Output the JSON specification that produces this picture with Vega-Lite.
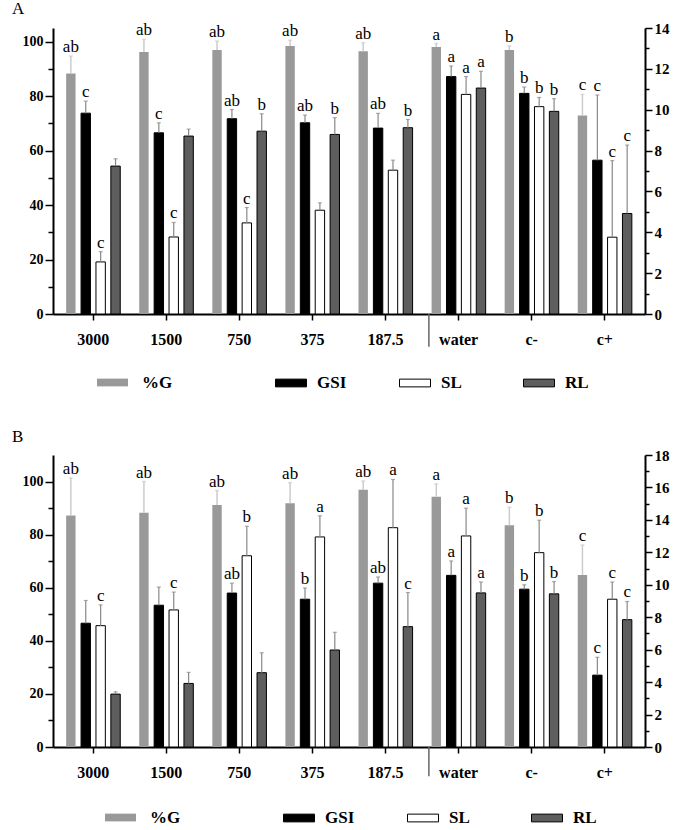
{
  "$schema": "https://vega.github.io/schema/vega-lite/v6.json",
  "padding": {"left": 12, "top": 0, "right": 5, "bottom": 0},
  "background": "white",
  "datasets": {
    "d": [
      {"p":"A","c":"3000","s":"%G","v":88.3,"hi":94.7,"l":"ab"},
      {"p":"A","c":"3000","s":"GSI","v":9.83,"hi":10.42,"l":"c"},
      {"p":"A","c":"3000","s":"SL","v":2.55,"hi":3.05,"l":"c"},
      {"p":"A","c":"3000","s":"RL","v":7.24,"hi":7.60,"l":""},
      {"p":"A","c":"1500","s":"%G","v":96.2,"hi":100.8,"l":"ab"},
      {"p":"A","c":"1500","s":"GSI","v":8.87,"hi":9.36,"l":"c"},
      {"p":"A","c":"1500","s":"SL","v":3.77,"hi":4.48,"l":"c"},
      {"p":"A","c":"1500","s":"RL","v":8.71,"hi":9.05,"l":""},
      {"p":"A","c":"750","s":"%G","v":96.9,"hi":100.2,"l":"ab"},
      {"p":"A","c":"750","s":"GSI","v":9.56,"hi":10.01,"l":"ab"},
      {"p":"A","c":"750","s":"SL","v":4.46,"hi":5.21,"l":"c"},
      {"p":"A","c":"750","s":"RL","v":8.95,"hi":9.80,"l":"b"},
      {"p":"A","c":"375","s":"%G","v":98.4,"hi":100.5,"l":"ab"},
      {"p":"A","c":"375","s":"GSI","v":9.36,"hi":9.74,"l":"ab"},
      {"p":"A","c":"375","s":"SL","v":5.08,"hi":5.44,"l":""},
      {"p":"A","c":"375","s":"RL","v":8.79,"hi":9.61,"l":"b"},
      {"p":"A","c":"187.5","s":"%G","v":96.5,"hi":99.6,"l":"ab"},
      {"p":"A","c":"187.5","s":"GSI","v":9.10,"hi":9.82,"l":"ab"},
      {"p":"A","c":"187.5","s":"SL","v":7.04,"hi":7.53,"l":""},
      {"p":"A","c":"187.5","s":"RL","v":9.12,"hi":9.52,"l":"b"},
      {"p":"A","c":"water","s":"%G","v":98.0,"hi":99.3,"l":"a"},
      {"p":"A","c":"water","s":"GSI","v":11.62,"hi":12.14,"l":"a"},
      {"p":"A","c":"water","s":"SL","v":10.75,"hi":11.62,"l":"a"},
      {"p":"A","c":"water","s":"RL","v":11.06,"hi":11.88,"l":"a"},
      {"p":"A","c":"c-","s":"%G","v":96.9,"hi":98.4,"l":"b"},
      {"p":"A","c":"c-","s":"GSI","v":10.80,"hi":11.11,"l":"b"},
      {"p":"A","c":"c-","s":"SL","v":10.15,"hi":10.60,"l":"b"},
      {"p":"A","c":"c-","s":"RL","v":9.92,"hi":10.54,"l":"b"},
      {"p":"A","c":"c+","s":"%G","v":72.9,"hi":80.6,"l":"c"},
      {"p":"A","c":"c+","s":"GSI","v":7.53,"hi":10.72,"l":"c"},
      {"p":"A","c":"c+","s":"SL","v":3.76,"hi":7.51,"l":"c"},
      {"p":"A","c":"c+","s":"RL","v":4.92,"hi":8.27,"l":"c"},
      {"p":"B","c":"3000","s":"%G","v":87.2,"hi":101.3,"l":"ab"},
      {"p":"B","c":"3000","s":"GSI","v":7.63,"hi":9.03,"l":""},
      {"p":"B","c":"3000","s":"SL","v":7.48,"hi":8.76,"l":"c"},
      {"p":"B","c":"3000","s":"RL","v":3.26,"hi":3.40,"l":""},
      {"p":"B","c":"1500","s":"%G","v":88.2,"hi":100.0,"l":"ab"},
      {"p":"B","c":"1500","s":"GSI","v":8.74,"hi":9.86,"l":""},
      {"p":"B","c":"1500","s":"SL","v":8.45,"hi":9.55,"l":"c"},
      {"p":"B","c":"1500","s":"RL","v":3.92,"hi":4.60,"l":""},
      {"p":"B","c":"750","s":"%G","v":91.2,"hi":96.6,"l":"ab"},
      {"p":"B","c":"750","s":"GSI","v":9.49,"hi":10.10,"l":"ab"},
      {"p":"B","c":"750","s":"SL","v":11.79,"hi":13.61,"l":"b"},
      {"p":"B","c":"750","s":"RL","v":4.58,"hi":5.81,"l":""},
      {"p":"B","c":"375","s":"%G","v":91.8,"hi":99.6,"l":"ab"},
      {"p":"B","c":"375","s":"GSI","v":9.11,"hi":9.80,"l":"b"},
      {"p":"B","c":"375","s":"SL","v":12.95,"hi":14.25,"l":"a"},
      {"p":"B","c":"375","s":"RL","v":5.98,"hi":7.07,"l":""},
      {"p":"B","c":"187.5","s":"%G","v":96.9,"hi":100.2,"l":"ab"},
      {"p":"B","c":"187.5","s":"GSI","v":10.10,"hi":10.48,"l":"ab"},
      {"p":"B","c":"187.5","s":"SL","v":13.52,"hi":16.49,"l":"a"},
      {"p":"B","c":"187.5","s":"RL","v":7.42,"hi":9.52,"l":"c"},
      {"p":"B","c":"water","s":"%G","v":94.3,"hi":99.1,"l":"a"},
      {"p":"B","c":"water","s":"GSI","v":10.58,"hi":11.47,"l":"a"},
      {"p":"B","c":"water","s":"SL","v":13.01,"hi":14.72,"l":"a"},
      {"p":"B","c":"water","s":"RL","v":9.50,"hi":10.17,"l":"a"},
      {"p":"B","c":"c-","s":"%G","v":83.5,"hi":90.3,"l":"b"},
      {"p":"B","c":"c-","s":"GSI","v":9.73,"hi":10.00,"l":"b"},
      {"p":"B","c":"c-","s":"SL","v":11.98,"hi":13.98,"l":"b"},
      {"p":"B","c":"c-","s":"RL","v":9.44,"hi":10.20,"l":"b"},
      {"p":"B","c":"c+","s":"%G","v":64.8,"hi":76.1,"l":"c"},
      {"p":"B","c":"c+","s":"GSI","v":4.43,"hi":5.53,"l":"c"},
      {"p":"B","c":"c+","s":"SL","v":9.11,"hi":10.17,"l":"c"},
      {"p":"B","c":"c+","s":"RL","v":7.85,"hi":8.97,"l":"c"}
    ]
  },
  "data": {"name": "d"},
  "spacing": 37,
  "vconcat": [
    {
      "title": {"text": "A", "anchor": "start", "frame": "group", "dx": -41, "offset": 3},
      "width": 592,
      "height": 286,
      "transform": [{"filter": "datum.p === 'A'"}],
      "layer": [
        {
          "transform": [{"filter": "datum.s === '%G'"}],
          "encoding": {
            "x": {"field": "c", "type": "nominal", "sort": ["3000","1500","750","375","187.5","water","c-","c+"], "scale": {"domain": ["3000","1500","750","375","187.5","water","c-","c+"], "paddingInner": 0.26, "paddingOuter": 0.18}, "axis": {"title": null, "labelAngle": 0, "tickSize": 6, "labelPadding": 11, "labelFontSize": 16, "domainWidth": 2}},
            "xOffset": {"field": "s", "type": "nominal", "sort": ["%G","GSI","SL","RL"], "scale": {"domain": ["%G","GSI","SL","RL"], "paddingInner": 0.37, "paddingOuter": 0}}
          },
          "layer": [
            {
              "mark": {"type": "bar"},
              "encoding": {
                "y": {"field": "v", "type": "quantitative", "scale": {"domain": [0, 105], "nice": false}, "axis": {"orient": "left", "title": null, "format": "d", "tickCount": 100, "values": [0,10,20,30,40,50,60,70,80,90,100], "labelOverlap": false, "labelSeparation": -8, "labelExpr": "abs(datum.value/20 - round(datum.value/20)) < 0.01 ? datum.label : ''", "tickSize": {"condition": {"test": "abs(datum.value/20 - round(datum.value/20)) < 0.01", "value": 8}, "value": 5}, "labelFontSize": 14, "labelPadding": 2}},
                "fill": {"field": "s", "type": "nominal", "scale": {"domain": ["%G"], "range": ["#999999"]}, "legend": {"title": null, "orient": "none", "legendX": 44, "legendY": 339, "labelOffset": 14}}
              }
            },
            {
              "mark": {"type": "rule", "color": "#cccccc", "strokeWidth": 1.5},
              "encoding": {"y": {"field": "v", "type": "quantitative"}, "y2": {"field": "hi"}}
            },
            {
              "mark": {"type": "tick", "color": "#cccccc", "thickness": 1.5, "size": 4},
              "encoding": {"y": {"field": "hi", "type": "quantitative"}}
            },
            {
              "mark": {"type": "text", "font": "Liberation Serif", "fontSize": 17, "color": "black", "baseline": "alphabetic", "dy": -4},
              "encoding": {"y": {"field": "hi", "type": "quantitative"}, "text": {"field": "l"}}
            },
            {
              "transform": [{"filter": "datum.c === 'water'"}],
              "mark": {"type": "rule", "color": "#666666", "strokeWidth": 1.5},
              "encoding": {
                "x": {"field": "c", "type": "nominal", "bandPosition": -0.05},
                "xOffset": null,
                "y": {"datum": 0},
                "y2": {"datum": -12}
              }
            }
          ]
        },
        {
          "transform": [{"filter": "datum.s !== '%G'"}],
          "encoding": {
            "x": {"field": "c", "type": "nominal", "sort": ["3000","1500","750","375","187.5","water","c-","c+"]},
            "xOffset": {"field": "s", "type": "nominal", "sort": ["%G","GSI","SL","RL"]}
          },
          "layer": [
            {
              "mark": {"type": "bar", "stroke": "black", "strokeWidth": 1},
              "encoding": {
                "y": {"field": "v", "type": "quantitative", "scale": {"domain": [0, 14], "nice": false}, "axis": {"orient": "right", "title": null, "format": "d", "tickCount": 100, "values": [0,1,2,3,4,5,6,7,8,9,10,11,12,13,14], "labelOverlap": false, "labelSeparation": -8, "labelExpr": "abs(datum.value/2 - round(datum.value/2)) < 0.01 ? datum.label : ''", "tickSize": {"condition": {"test": "abs(datum.value/2 - round(datum.value/2)) < 0.01", "value": 7}, "value": 4}, "labelFontSize": 15, "labelPadding": 2}},
                "fill": {"field": "s", "type": "nominal", "sort": ["GSI","SL","RL"], "scale": {"domain": ["GSI","SL","RL"], "range": ["#000000","#ffffff","#5e5e5e"]}, "legend": {"title": null, "orient": "none", "legendX": 222, "legendY": 339, "direction": "horizontal", "gridAlign": "all", "columnPadding": 50, "labelOffset": 10, "symbolStrokeColor": "black", "symbolStrokeWidth": 1}}
              }
            },
            {
              "mark": {"type": "rule", "color": "#888888", "strokeWidth": 1.2},
              "encoding": {"y": {"field": "v", "type": "quantitative"}, "y2": {"field": "hi"}}
            },
            {
              "mark": {"type": "tick", "color": "#888888", "thickness": 1.2, "size": 4},
              "encoding": {"y": {"field": "hi", "type": "quantitative"}}
            },
            {
              "mark": {"type": "text", "font": "Liberation Serif", "fontSize": 17, "color": "black", "baseline": "alphabetic", "dy": -4},
              "encoding": {"y": {"field": "hi", "type": "quantitative"}, "text": {"field": "l"}}
            }
          ]
        }
      ],
      "resolve": {"scale": {"y": "independent", "fill": "independent"}, "legend": {"fill": "independent"}}
    },
    {
      "title": {"text": "B", "anchor": "start", "frame": "group", "dx": -41, "offset": 2},
      "width": 592,
      "height": 292,
      "transform": [{"filter": "datum.p === 'B'"}],
      "layer": [
        {
          "transform": [{"filter": "datum.s === '%G'"}],
          "encoding": {
            "x": {"field": "c", "type": "nominal", "sort": ["3000","1500","750","375","187.5","water","c-","c+"], "scale": {"domain": ["3000","1500","750","375","187.5","water","c-","c+"], "paddingInner": 0.26, "paddingOuter": 0.18}, "axis": {"title": null, "labelAngle": 0, "tickSize": 6, "labelPadding": 11, "labelFontSize": 16, "domainWidth": 2}},
            "xOffset": {"field": "s", "type": "nominal", "sort": ["%G","GSI","SL","RL"], "scale": {"domain": ["%G","GSI","SL","RL"], "paddingInner": 0.37, "paddingOuter": 0}}
          },
          "layer": [
            {
              "mark": {"type": "bar"},
              "encoding": {
                "y": {"field": "v", "type": "quantitative", "scale": {"domain": [0, 110], "nice": false}, "axis": {"orient": "left", "title": null, "format": "d", "tickCount": 100, "values": [0,10,20,30,40,50,60,70,80,90,100], "labelOverlap": false, "labelSeparation": -8, "labelExpr": "abs(datum.value/20 - round(datum.value/20)) < 0.01 ? datum.label : ''", "tickSize": {"condition": {"test": "abs(datum.value/20 - round(datum.value/20)) < 0.01", "value": 8}, "value": 5}, "labelFontSize": 14, "labelPadding": 2}},
                "fill": {"field": "s", "type": "nominal", "scale": {"domain": ["%G"], "range": ["#999999"]}, "legend": {"title": null, "orient": "none", "legendX": 52, "legendY": 347, "labelOffset": 14}}
              }
            },
            {
              "mark": {"type": "rule", "color": "#cccccc", "strokeWidth": 1.5},
              "encoding": {"y": {"field": "v", "type": "quantitative"}, "y2": {"field": "hi"}}
            },
            {
              "mark": {"type": "tick", "color": "#cccccc", "thickness": 1.5, "size": 4},
              "encoding": {"y": {"field": "hi", "type": "quantitative"}}
            },
            {
              "mark": {"type": "text", "font": "Liberation Serif", "fontSize": 17, "color": "black", "baseline": "alphabetic", "dy": -4},
              "encoding": {"y": {"field": "hi", "type": "quantitative"}, "text": {"field": "l"}}
            },
            {
              "transform": [{"filter": "datum.c === 'water'"}],
              "mark": {"type": "rule", "color": "#666666", "strokeWidth": 1.5},
              "encoding": {
                "x": {"field": "c", "type": "nominal", "bandPosition": -0.05},
                "xOffset": null,
                "y": {"datum": 0},
                "y2": {"datum": -11}
              }
            }
          ]
        },
        {
          "transform": [{"filter": "datum.s !== '%G'"}],
          "encoding": {
            "x": {"field": "c", "type": "nominal", "sort": ["3000","1500","750","375","187.5","water","c-","c+"]},
            "xOffset": {"field": "s", "type": "nominal", "sort": ["%G","GSI","SL","RL"]}
          },
          "layer": [
            {
              "mark": {"type": "bar", "stroke": "black", "strokeWidth": 1},
              "encoding": {
                "y": {"field": "v", "type": "quantitative", "scale": {"domain": [0, 18], "nice": false}, "axis": {"orient": "right", "title": null, "format": "d", "tickCount": 100, "values": [0,1,2,3,4,5,6,7,8,9,10,11,12,13,14,15,16,17,18], "labelOverlap": false, "labelSeparation": -8, "labelExpr": "abs(datum.value/2 - round(datum.value/2)) < 0.01 ? datum.label : ''", "tickSize": {"condition": {"test": "abs(datum.value/2 - round(datum.value/2)) < 0.01", "value": 7}, "value": 4}, "labelFontSize": 15, "labelPadding": 2}},
                "fill": {"field": "s", "type": "nominal", "sort": ["GSI","SL","RL"], "scale": {"domain": ["GSI","SL","RL"], "range": ["#000000","#ffffff","#5e5e5e"]}, "legend": {"title": null, "orient": "none", "legendX": 230, "legendY": 347, "direction": "horizontal", "gridAlign": "all", "columnPadding": 50, "labelOffset": 10, "symbolStrokeColor": "black", "symbolStrokeWidth": 1}}
              }
            },
            {
              "mark": {"type": "rule", "color": "#888888", "strokeWidth": 1.2},
              "encoding": {"y": {"field": "v", "type": "quantitative"}, "y2": {"field": "hi"}}
            },
            {
              "mark": {"type": "tick", "color": "#888888", "thickness": 1.2, "size": 4},
              "encoding": {"y": {"field": "hi", "type": "quantitative"}}
            },
            {
              "mark": {"type": "text", "font": "Liberation Serif", "fontSize": 17, "color": "black", "baseline": "alphabetic", "dy": -4},
              "encoding": {"y": {"field": "hi", "type": "quantitative"}, "text": {"field": "l"}}
            }
          ]
        }
      ],
      "resolve": {"scale": {"y": "independent", "fill": "independent"}, "legend": {"fill": "independent"}}
    }
  ],
  "resolve": {"scale": {"fill": "independent", "y": "independent", "x": "independent", "xOffset": "independent"}, "legend": {"fill": "independent"}},
  "config": {
    "font": "Liberation Serif",
    "view": {"stroke": null},
    "axis": {"grid": false, "labelOverlap": false, "domainColor": "black", "domainWidth": 2, "tickColor": "black", "tickWidth": 1.5, "labelFont": "Liberation Serif", "labelFontWeight": "bold", "labelColor": "black"},
    "title": {"font": "Liberation Serif", "fontSize": 17, "fontWeight": "normal", "color": "black"},
    "legend": {"labelFont": "Liberation Serif", "labelFontWeight": "bold", "labelFontSize": 17, "labelColor": "black", "symbolType": "M-1,-0.25H1V0.25H-1Z", "symbolSize": 961, "symbolStrokeWidth": 0, "symbolOpacity": 1}
  }
}
